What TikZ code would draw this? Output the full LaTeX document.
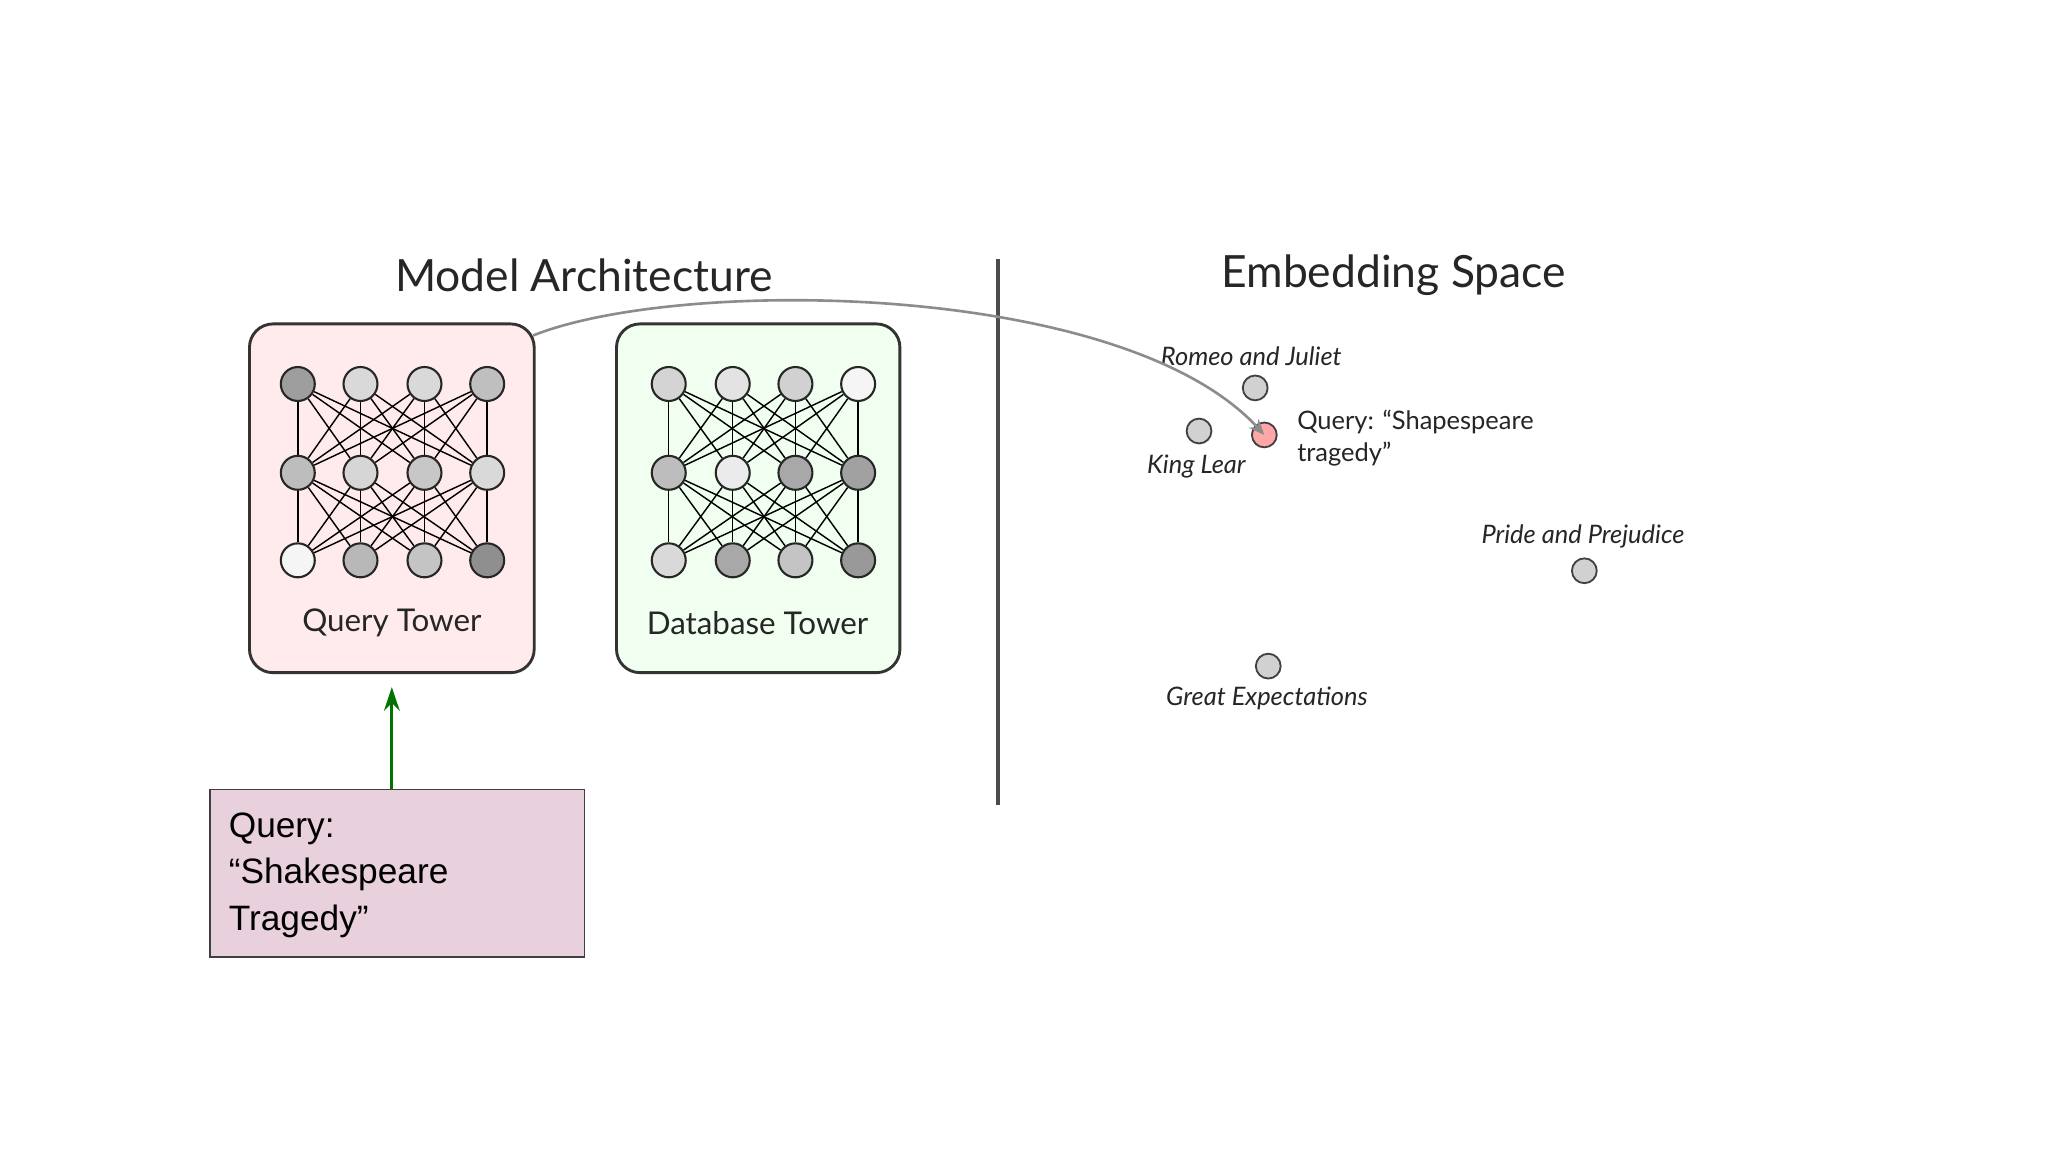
\documentclass[tikz,border=0pt]{standalone}
\usepackage{fontspec}
\setmainfont{Lato}
\newfontfamily\arialf{Liberation Sans}
\usetikzlibrary{arrows.meta}
\pgfdeclarelayer{bg}
\pgfsetlayers{bg,main}
\definecolor{qboxfill}{HTML}{E8D0DC}
\begin{document}
\begin{tikzpicture}[x=1pt,y=-1pt,
  tower/.style={draw=black!80,line width=2.2pt,rounded corners=18pt},
  nn/.style={circle,draw=black!85,line width=1.6pt,minimum size=26pt,inner sep=0pt},
  pt/.style={circle,draw=black!75,line width=1.4pt,minimum size=19pt,inner sep=0pt,fill=black!18},
  lab/.style={font=\fontsize{19.5}{21}\selectfont\itshape,text=black!85},
  edge/.style={line width=1.1pt,black}]
\useasboundingbox (0,0) rectangle (1568,882);
\begin{pgfonlayer}{bg}\fill[white] (0,0) rectangle (1568,882);\end{pgfonlayer}
\node[font=\fontsize{34}{36}\selectfont,text=black!85] (t1) at (447,211) {Model Architecture};
\node[font=\fontsize{34}{36}\selectfont,text=black!85] (t2) at (1067,211) {Embedding Space};
\coordinate (v1) at (764,198); \coordinate (v2) at (764,616);
\draw[black!70,line width=3pt] (v1) -- (v2);
\begin{pgfonlayer}{bg}
\node[tower,fill=red!8,minimum width=218pt,minimum height=267pt] (qt) at (300,381.5) {};
\node[tower,fill=green!6,minimum width=217pt,minimum height=267pt] (dt) at (580.5,381.5) {};
\end{pgfonlayer}
\node[font=\fontsize{24}{26}\selectfont,text=black!85] (qtl) at (300,477) {Query Tower};
\node[font=\fontsize{24}{26}\selectfont,text=black!85] (dtl) at (580,477) {Database Tower};
\def\qx{{228,276,325,373}}
\def\dx{{512,561,609,657}}
\foreach \c [count=\i] in {62,85,85,75}{\pgfmathsetmacro\xx{\qx[\i-1]}\node[nn,fill=black!\the\numexpr100-\c\relax] (q1\i) at (\xx,294) {};}
\foreach \c [count=\i] in {74,84,78,85}{\pgfmathsetmacro\xx{\qx[\i-1]}\node[nn,fill=black!\the\numexpr100-\c\relax] (q2\i) at (\xx,362) {};}
\foreach \c [count=\i] in {96,72,77,56}{\pgfmathsetmacro\xx{\qx[\i-1]}\node[nn,fill=black!\the\numexpr100-\c\relax] (q3\i) at (\xx,429) {};}
\foreach \c [count=\i] in {83,89,82,96}{\pgfmathsetmacro\xx{\dx[\i-1]}\node[nn,fill=black!\the\numexpr100-\c\relax] (d1\i) at (\xx,294) {};}
\foreach \c [count=\i] in {74,92,66,63}{\pgfmathsetmacro\xx{\dx[\i-1]}\node[nn,fill=black!\the\numexpr100-\c\relax] (d2\i) at (\xx,362) {};}
\foreach \c [count=\i] in {85,66,77,60}{\pgfmathsetmacro\xx{\dx[\i-1]}\node[nn,fill=black!\the\numexpr100-\c\relax] (d3\i) at (\xx,429) {};}
\begin{pgfonlayer}{bg}
\foreach \p in {q,d}{\foreach \i in {1,...,4}{\foreach \j in {1,...,4}{
  \draw[edge] (\p1\i) -- (\p2\j);
  \draw[edge] (\p2\i) -- (\p3\j);}}}
\end{pgfonlayer}
\node[pt] (rj) at (961,297) {};
\node[pt] (kl) at (918,330) {};
\node[pt,fill=red!35] (qp) at (968,333) {};
\node[pt] (pp) at (1213,437) {};
\node[pt] (ge) at (971,510) {};
\node[lab] (rjl) at (958,273) {Romeo and Juliet};
\node[lab] (kll) at (916,357) {King Lear};
\node[lab] (ppl) at (1212,411) {Pride and Prejudice};
\node[lab] (gel) at (970,535) {Great Expectations};
\node[font=\fontsize{19.5}{24}\selectfont,text=black!85,anchor=north west,align=left,inner sep=0pt] (ql) at (993,314) {Query: “Shapespeare\\tragedy”};
\draw[black!45,line width=2pt,-{Stealth[length=12pt,width=10pt]}] (qt.north east)++(-2,10) .. controls (520,212) and (860,215) .. (qp.center);
\node[draw=black!75,line width=1.2pt,fill=qboxfill,minimum width=287pt,minimum height=128pt,anchor=north west] (qb) at (160,604) {};
\node[font=\arialf\fontsize{27}{35.5}\selectfont,anchor=north west,align=left,inner sep=0pt] (qbt) at (175,622) {Query:\\“Shakespeare\\Tragedy”};
\draw[green!45!black,line width=2.2pt,-{Stealth[length=18pt,width=12pt]}] (qb.north -| qt.south) -- ([yshift=-10pt]qt.south);
\end{tikzpicture}
\end{document}
